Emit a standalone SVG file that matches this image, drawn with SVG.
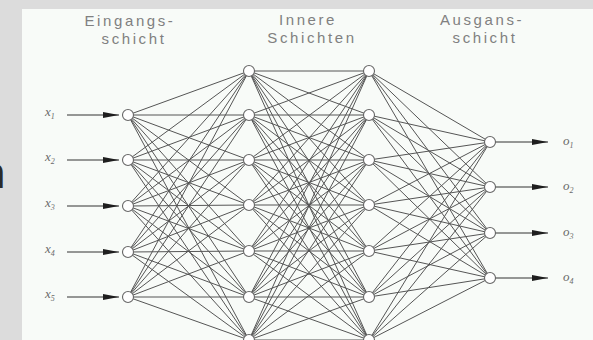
<svg xmlns="http://www.w3.org/2000/svg" width="593" height="340" viewBox="0 0 593 340">
<defs>
<style>
.title{font-family:"Liberation Sans",Arial,sans-serif;font-size:15px;fill:#808080;letter-spacing:2.6px;text-anchor:middle}
.lab{font-family:"Liberation Serif","Times New Roman",serif;font-style:italic;font-size:13px;fill:#6a6a6a}
.sub{font-size:8px}
.w{fill:none;stroke:#555;stroke-width:1}
.arr{fill:none;stroke:#333;stroke-width:1}
.node{fill:#fff;stroke:#666;stroke-width:1.1}
</style>
<marker id="ah" markerWidth="16" markerHeight="7" refX="16" refY="3.5" orient="auto" markerUnits="userSpaceOnUse"><path d="M0 0.6L16 3.5L0 6.4z" fill="#1e1e1e"/></marker>
</defs>
<rect x="0" y="0" width="593" height="340" fill="#dcdcdc"/>
<rect x="22" y="9" width="571" height="331" fill="#f8fbf8"/>
<text x="6" y="188" font-family="'Open Sans',sans-serif" font-size="43" fill="#2a2a2a" text-anchor="end">n</text>
<g id="titles">
<text class="title" x="130" y="26">Eingangs-</text>
<text class="title" x="134" y="44">schicht</text>
<text class="title" x="308" y="25">Innere</text>
<text class="title" x="312" y="43">Schichten</text>
<text class="title" x="482" y="25">Ausgans-</text>
<text class="title" x="485" y="43">schicht</text>
</g>
<g id="connectors">
<path class="w" d="M128 115L249 71M128 115L249 115M128 115L249 160M128 115L249 205M128 115L249 251M128 115L249 297M128 115L249 340"/>
<path class="w" d="M128 160L249 71M128 160L249 115M128 160L249 160M128 160L249 205M128 160L249 251M128 160L249 297M128 160L249 340"/>
<path class="w" d="M128 206L249 71M128 206L249 115M128 206L249 160M128 206L249 205M128 206L249 251M128 206L249 297M128 206L249 340"/>
<path class="w" d="M128 252L249 71M128 252L249 115M128 252L249 160M128 252L249 205M128 252L249 251M128 252L249 297M128 252L249 340"/>
<path class="w" d="M128 297L249 71M128 297L249 115M128 297L249 160M128 297L249 205M128 297L249 251M128 297L249 297M128 297L249 340"/>
<path class="w" d="M249 71L369 71M249 71L369 115M249 71L369 160M249 71L369 205M249 71L369 251M249 71L369 297M249 71L369 340"/>
<path class="w" d="M249 115L369 71M249 115L369 115M249 115L369 160M249 115L369 205M249 115L369 251M249 115L369 297M249 115L369 340"/>
<path class="w" d="M249 160L369 71M249 160L369 115M249 160L369 160M249 160L369 205M249 160L369 251M249 160L369 297M249 160L369 340"/>
<path class="w" d="M249 205L369 71M249 205L369 115M249 205L369 160M249 205L369 205M249 205L369 251M249 205L369 297M249 205L369 340"/>
<path class="w" d="M249 251L369 71M249 251L369 115M249 251L369 160M249 251L369 205M249 251L369 251M249 251L369 297M249 251L369 340"/>
<path class="w" d="M249 297L369 71M249 297L369 115M249 297L369 160M249 297L369 205M249 297L369 251M249 297L369 297M249 297L369 340"/>
<path class="w" d="M249 340L369 71M249 340L369 115M249 340L369 160M249 340L369 205M249 340L369 251M249 340L369 297M249 340L369 340"/>
<path class="w" d="M369 71L490 142M369 71L490 187M369 71L490 233M369 71L490 278"/>
<path class="w" d="M369 115L490 142M369 115L490 187M369 115L490 233M369 115L490 278"/>
<path class="w" d="M369 160L490 142M369 160L490 187M369 160L490 233M369 160L490 278"/>
<path class="w" d="M369 205L490 142M369 205L490 187M369 205L490 233M369 205L490 278"/>
<path class="w" d="M369 251L490 142M369 251L490 187M369 251L490 233M369 251L490 278"/>
<path class="w" d="M369 297L490 142M369 297L490 187M369 297L490 233M369 297L490 278"/>
<path class="w" d="M369 340L490 142M369 340L490 187M369 340L490 233M369 340L490 278"/>
<line class="arr" x1="67" y1="115" x2="119" y2="115" marker-end="url(#ah)"/>
<line class="arr" x1="67" y1="160" x2="119" y2="160" marker-end="url(#ah)"/>
<line class="arr" x1="67" y1="206" x2="119" y2="206" marker-end="url(#ah)"/>
<line class="arr" x1="67" y1="252" x2="119" y2="252" marker-end="url(#ah)"/>
<line class="arr" x1="67" y1="297" x2="119" y2="297" marker-end="url(#ah)"/>
<line class="arr" x1="490" y1="142" x2="548" y2="142" marker-end="url(#ah)"/>
<line class="arr" x1="490" y1="187" x2="548" y2="187" marker-end="url(#ah)"/>
<line class="arr" x1="490" y1="233" x2="548" y2="233" marker-end="url(#ah)"/>
<line class="arr" x1="490" y1="278" x2="548" y2="278" marker-end="url(#ah)"/>
</g>
<g id="in1"><circle class="node" cx="128" cy="115" r="5.5"/><text class="lab" x="45" y="116">x<tspan class="sub" dy="3">1</tspan></text></g>
<g id="in2"><circle class="node" cx="128" cy="160" r="5.5"/><text class="lab" x="45" y="161">x<tspan class="sub" dy="3">2</tspan></text></g>
<g id="in3"><circle class="node" cx="128" cy="206" r="5.5"/><text class="lab" x="45" y="207">x<tspan class="sub" dy="3">3</tspan></text></g>
<g id="in4"><circle class="node" cx="128" cy="252" r="5.5"/><text class="lab" x="45" y="253">x<tspan class="sub" dy="3">4</tspan></text></g>
<g id="in5"><circle class="node" cx="128" cy="297" r="5.5"/><text class="lab" x="45" y="298">x<tspan class="sub" dy="3">5</tspan></text></g>
<g id="h1a"><circle class="node" cx="249" cy="71" r="5.5"/></g>
<g id="h1b"><circle class="node" cx="249" cy="115" r="5.5"/></g>
<g id="h1c"><circle class="node" cx="249" cy="160" r="5.5"/></g>
<g id="h1d"><circle class="node" cx="249" cy="205" r="5.5"/></g>
<g id="h1e"><circle class="node" cx="249" cy="251" r="5.5"/></g>
<g id="h1f"><circle class="node" cx="249" cy="297" r="5.5"/></g>
<g id="h1g"><circle class="node" cx="249" cy="340" r="5.5"/></g>
<g id="h2a"><circle class="node" cx="369" cy="71" r="5.5"/></g>
<g id="h2b"><circle class="node" cx="369" cy="115" r="5.5"/></g>
<g id="h2c"><circle class="node" cx="369" cy="160" r="5.5"/></g>
<g id="h2d"><circle class="node" cx="369" cy="205" r="5.5"/></g>
<g id="h2e"><circle class="node" cx="369" cy="251" r="5.5"/></g>
<g id="h2f"><circle class="node" cx="369" cy="297" r="5.5"/></g>
<g id="h2g"><circle class="node" cx="369" cy="340" r="5.5"/></g>
<g id="out1"><circle class="node" cx="490" cy="142" r="5.5"/><text class="lab" x="563" y="145">o<tspan class="sub" dy="3">1</tspan></text></g>
<g id="out2"><circle class="node" cx="490" cy="187" r="5.5"/><text class="lab" x="563" y="190">o<tspan class="sub" dy="3">2</tspan></text></g>
<g id="out3"><circle class="node" cx="490" cy="233" r="5.5"/><text class="lab" x="563" y="236">o<tspan class="sub" dy="3">3</tspan></text></g>
<g id="out4"><circle class="node" cx="490" cy="278" r="5.5"/><text class="lab" x="563" y="281">o<tspan class="sub" dy="3">4</tspan></text></g>
</svg>
